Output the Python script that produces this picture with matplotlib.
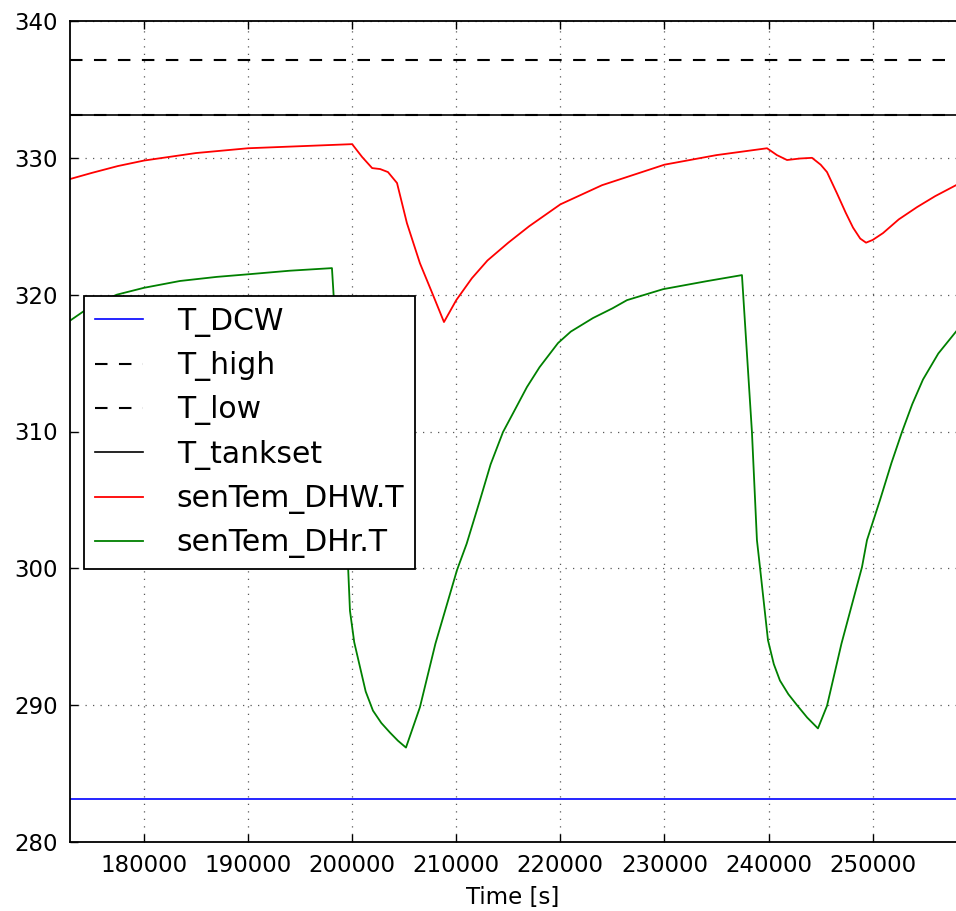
import numpy as np
import matplotlib.pyplot as plt

# constant levels [K]
t_span = [172900, 258000]
T_DCW = [283.15, 283.15]
T_high = [337.15, 337.15]
T_low = [333.15, 333.15]
T_tankset = [333.15, 333.15]

# senTem_DHW.T
t_dhw = [172900, 175000, 177500, 180000, 185000, 190000, 195000, 200000,
         200960, 201920, 202690, 203440, 204310, 205260, 206510, 207700, 208820,
         210000, 211500, 213000, 215000, 217000, 220000, 224000, 230000, 235000,
         239850, 240800, 241770, 243000, 244170, 245000, 245610, 246570, 247400,
         248110, 248800, 249360, 250000, 250990, 252500, 254260, 256000, 258000]
v_dhw = [328.45, 328.9, 329.4, 329.8, 330.35, 330.7, 330.85, 331.0,
         330.06, 329.25, 329.18, 328.96, 328.16, 325.23, 322.3, 320.1, 318.0,
         319.6, 321.2, 322.5, 323.8, 325.0, 326.6, 328.0, 329.5, 330.2,
         330.7, 330.2, 329.84, 329.95, 330.0, 329.5, 328.96, 327.4, 326.0,
         324.9, 324.1, 323.8, 324.0, 324.5, 325.5, 326.4, 327.2, 328.0]

# senTem_DHr.T
t_dhr = [172900, 175000, 177400, 180000, 183460, 187000, 190180, 194000, 198060,
         199020, 199500, 199790, 200200, 200750, 201300, 202000, 202800, 203630,
         204400, 205170, 206510, 208000, 210070, 211000, 212280, 213300, 214490,
         215500, 216790, 218000, 219770, 221000, 223130, 225000, 226400, 229860,
         232000, 234080, 237440, 238400, 238880, 239170, 239940, 240500, 241090,
         241900, 242730, 243700, 244740, 245610, 247000, 248970, 249450, 250700,
         251800, 252810, 253800, 254830, 256300, 258000]
v_dhr = [318.1, 319.2, 320.0, 320.5, 321.0, 321.3, 321.5, 321.75, 321.94,
         310.1, 302.06, 296.9, 294.6, 292.8, 291.0, 289.6, 288.7, 288.0,
         287.4, 286.9, 289.85, 294.5, 299.87, 301.8, 304.99, 307.6, 309.96,
         311.4, 313.25, 314.7, 316.46, 317.3, 318.29, 319.0, 319.6, 320.4,
         320.7, 320.99, 321.43, 309.96, 302.06, 300.09, 294.75, 293.0, 291.8,
         290.8, 290.0, 289.1, 288.3, 289.95, 294.5, 300.09, 302.06, 304.99,
         307.7, 309.96, 312.0, 313.8, 315.7, 317.3]

fs = 16.5
plt.rcParams['font.family'] = 'DejaVu Sans'

fig = plt.figure(figsize=(9.56, 9.11), dpi=100)
ax = fig.add_axes([70 / 956, 1 - 842 / 911, 1 - 70 / 956, (842 - 21) / 911])

ax.plot(t_span, T_DCW, color='b', lw=1.2, label='T_DCW')
ax.plot(t_span, T_high, color='k', lw=1.5, dashes=(6, 5.5), label='T_high')
ax.plot(t_span, T_low, color='k', lw=1.5, dashes=(6, 5.5), label='T_low')
ax.plot(t_span, T_tankset, color='k', lw=1.2, label='T_tankset')
ax.plot(t_dhw, v_dhw, color='r', lw=1.3, label='senTem_DHW.T')
ax.plot(t_dhr, v_dhr, color='g', lw=1.3, label='senTem_DHr.T')

ax.set_xlim(172900, 258000)
ax.set_ylim(280, 340)
ax.set_xticks(np.arange(180000, 250001, 10000))
ax.set_yticks(np.arange(280, 341, 10))
ax.tick_params(direction='in', length=6, width=1, labelsize=fs, pad=9,
               top=True, right=False)
ax.grid(True, color='0.35', linestyle=(0, (1, 5)), linewidth=0.9)
for side in ['left', 'bottom', 'top']:
    ax.spines[side].set_linewidth(1.3)
ax.spines['right'].set_visible(False)

ax.set_xlabel('Time [s]', fontsize=fs, labelpad=6)

leg = ax.legend(loc='upper left', bbox_to_anchor=(14 / 886, (842 - 296) / 821),
                borderaxespad=0, fontsize=21.5, fancybox=False, framealpha=1,
                edgecolor='k', handlelength=1.6, handletextpad=1.15,
                labelspacing=0.48, borderpad=0.36)
leg.get_frame().set_linewidth(1.3)

fig.savefig('out.png', dpi=100, facecolor='white')
